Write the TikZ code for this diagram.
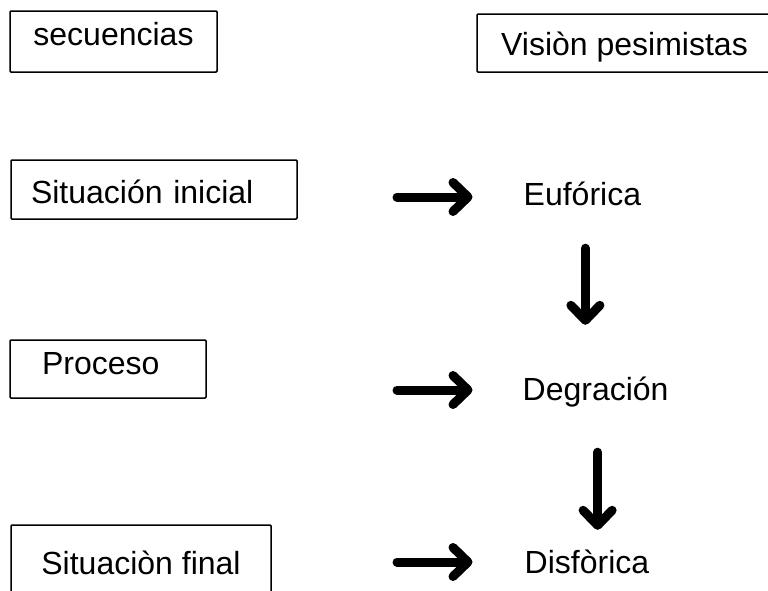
\documentclass[tikz,border=0pt]{standalone}
\usepackage{fontspec}
\setmainfont{Liberation Sans}
\usetikzlibrary{arrows.meta}

\begin{document}
\begin{tikzpicture}[x=1pt,y=-1pt]
\tikzstyle{every node}+=[font=\fontsize{32}{38}\selectfont, inner sep=0pt, text height=23pt, text depth=0pt]
\tikzstyle{caja}=[draw=black, line width=1.5pt, rounded corners=1pt]
\tikzstyle{flecha}=[line width=9pt, line cap=round, -{Straight Barb[length=15pt,width=29pt,round]}]
\useasboundingbox (0,0) rectangle (768,590);
\clip (0,0) rectangle (768,590);
% columna izquierda
\node [caja, minimum width=207pt, minimum height=61pt, text depth=16pt] (sec) at (113.5,41.5) {secuencias};
\node [caja, text width=246pt, inner xsep=20pt, align=left, minimum height=59pt, text height=27pt] (ini) at (154,189.5) {Situación inicial};
\node [caja, text width=132pt, inner xsep=32pt, align=left, minimum height=58pt, text depth=13pt] (pro) at (108,369) {Proceso};
\node [caja, minimum width=260pt, minimum height=75pt] (fin) at (141,562.5) {Situaciòn final};
% columna derecha
\node [caja, minimum width=295pt, minimum height=58pt, text height=24pt] (vis) at (624.5,43) {Visiòn pesimistas};
\node [anchor=base west] (euf) at (523.5,205) {Eufórica};
\node [anchor=base west] (deg) at (522.5,400) {Degración};
\node [anchor=base west] (dis) at (524.5,573) {Disfòrica};
% flechas
\coordinate (h1) at (397,197);
\coordinate (h2) at (397,390);
\coordinate (h3) at (397,562);
\draw [flecha, shorten >=51pt] (h1) -- (h1 -| euf.west);
\draw [flecha, shorten >=50pt] (h2) -- (h2 -| deg.west);
\draw [flecha, shorten >=52pt] (h3) -- (h3 -| dis.west);
\draw [flecha, shorten <=43pt, shorten >=52pt] ([xshift=3pt]euf.south) -- ([xshift=3pt]euf.south |- deg.north);
\draw [flecha, shorten <=52pt, shorten >=20pt] ([xshift=2pt]deg.south) -- ([xshift=2pt]deg.south |- dis.north);
\end{tikzpicture}
\end{document}
